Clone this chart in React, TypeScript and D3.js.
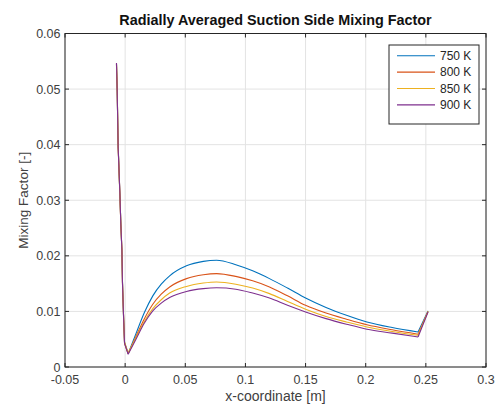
import React from "react";
import * as d3 from "d3";

const xCoord = [-0.0072, -0.0066, -0.0058, -0.0044, -0.0036, -0.0027, -0.0022, -0.0013, -0.0005, 0.0025, 0.009, 0.016, 0.023, 0.03, 0.037, 0.051, 0.065, 0.076, 0.092, 0.106, 0.12, 0.135, 0.15, 0.167, 0.184, 0.201, 0.222, 0.2435, 0.2518];

const mf750 = [0.0545, 0.0495, 0.0398, 0.0312, 0.0261, 0.0208, 0.0153, 0.0088, 0.0044, 0.0024, 0.006, 0.0098, 0.0128, 0.0149, 0.0164, 0.0182, 0.019, 0.0192, 0.0184, 0.0173, 0.0159, 0.0142, 0.0124, 0.0107, 0.0093, 0.0081, 0.0071, 0.0063, 0.0101];
const mf800 = [0.0546, 0.0497, 0.0394, 0.0315, 0.0257, 0.0212, 0.0149, 0.0091, 0.0042, 0.0024, 0.0055, 0.0087, 0.0113, 0.0131, 0.0144, 0.0159, 0.0166, 0.0168, 0.0163, 0.0155, 0.0144, 0.0128, 0.0111, 0.0097, 0.0086, 0.0076, 0.0067, 0.0059, 0.01];
const mf850 = [0.0544, 0.0499, 0.0397, 0.031, 0.026, 0.0209, 0.0152, 0.0089, 0.0045, 0.0025, 0.0053, 0.0082, 0.0105, 0.0121, 0.0133, 0.0145, 0.0151, 0.0153, 0.0149, 0.0142, 0.0132, 0.0118, 0.0104, 0.0091, 0.0081, 0.0072, 0.0064, 0.0057, 0.01];
const mf900 = [0.0547, 0.0496, 0.0395, 0.0314, 0.0258, 0.0211, 0.015, 0.009, 0.0043, 0.0023, 0.005, 0.0079, 0.0101, 0.0115, 0.0125, 0.0136, 0.0141, 0.01425, 0.014, 0.0133, 0.0124, 0.0111, 0.0099, 0.0087, 0.0077, 0.0068, 0.0061, 0.0054, 0.0099];

const seriesNames = ["750 K", "800 K", "850 K", "900 K"];
const seriesColors = ["#0072BD", "#D95319", "#EDB120", "#7E2F8E"];
const seriesValues = [mf750, mf800, mf850, mf900];

const xTicks = [-0.05, 0, 0.05, 0.1, 0.15, 0.2, 0.25, 0.3];
const yTicks = [0, 0.01, 0.02, 0.03, 0.04, 0.05, 0.06];

const W = 496, H = 409;
const L = 65, R = 486, T = 33.5, B = 367;
const axisColor = "#262626";
const textColor = "#404040";
const gridColor = "#e3e3e3";
const font = "'Liberation Sans', Arial, Helvetica, sans-serif";

export default function App() {
  const x = d3.scaleLinear().domain([-0.05, 0.3]).range([L, R]);
  const y = d3.scaleLinear().domain([0, 0.06]).range([B, T]);
  const linear = d3.line<[number, number]>().x(d => x(d[0])).y(d => y(d[1]));
  const smooth = d3.line<[number, number]>().x(d => x(d[0])).y(d => y(d[1])).curve(d3.curveMonotoneX);
  const fmt = (v: number) => (v === 0 ? "0" : String(v));
  const minIdx = 9;
  const n = xCoord.length;

  const pathFor = (vals: number[]) => {
    const pts = xCoord.map((xv, j) => [xv, vals[j]] as [number, number]);
    const a = linear(pts.slice(0, minIdx + 1)) || "";
    const b = smooth(pts.slice(minIdx, n - 1)) || "";
    const c = linear(pts.slice(n - 2)) || "";
    return a + b + c;
  };

  const lx = 389, ly = 45, lw = 90, lh = 79;

  return (
    <svg width={W} height={H} style={{ position: "absolute", left: 0, top: 0, background: "#fff" }} fontFamily={font}>
      <rect x={0} y={0} width={W} height={H} fill="#fff" />
      {xTicks.map(t => (
        <line key={"gx" + t} x1={x(t)} x2={x(t)} y1={T} y2={B} stroke={gridColor} strokeWidth={1} />
      ))}
      {yTicks.map(t => (
        <line key={"gy" + t} x1={L} x2={R} y1={y(t)} y2={y(t)} stroke={gridColor} strokeWidth={1} />
      ))}
      <g fill="none" strokeWidth={1.1} strokeLinejoin="round">
        {seriesValues.map((vals, i) => (
          <path key={i} d={pathFor(vals)} stroke={seriesColors[i]} />
        ))}
      </g>
      <rect x={L} y={T} width={R - L} height={B - T} fill="none" stroke={axisColor} strokeWidth={1} />
      {xTicks.map(t => (
        <g key={"tx" + t}>
          <line x1={x(t)} x2={x(t)} y1={B} y2={B - 4} stroke={axisColor} />
          <line x1={x(t)} x2={x(t)} y1={T} y2={T + 4} stroke={axisColor} />
          <text x={x(t)} y={384} textAnchor="middle" fontSize={12.5} fill={textColor}>{fmt(t)}</text>
        </g>
      ))}
      {yTicks.map(t => (
        <g key={"ty" + t}>
          <line x1={L} x2={L + 4} y1={y(t)} y2={y(t)} stroke={axisColor} />
          <line x1={R} x2={R - 4} y1={y(t)} y2={y(t)} stroke={axisColor} />
          <text x={60.5} y={y(t) + 4.5} textAnchor="end" fontSize={12.5} fill={textColor}>{fmt(t)}</text>
        </g>
      ))}
      <text x={(L + R) / 2} y={25} textAnchor="middle" fontSize={14.4} fontWeight="bold" fill="#111">Radially Averaged Suction Side Mixing Factor</text>
      <text x={(L + R) / 2} y={401} textAnchor="middle" fontSize={14} fill={textColor}>x-coordinate [m]</text>
      <text transform={`translate(28,${(T + B) / 2}) rotate(-90)`} textAnchor="middle" fontSize={13.5} fill={textColor}>Mixing Factor [-]</text>
      <rect x={lx} y={ly} width={lw} height={lh} fill="#fff" stroke={axisColor} strokeWidth={1} />
      {seriesNames.map((nm, i) => {
        const ry = 55.7 + i * 16.4;
        return (
          <g key={nm}>
            <line x1={397} x2={435} y1={ry} y2={ry} stroke={seriesColors[i]} strokeWidth={1.1} />
            <text x={440} y={ry + 4.2} fontSize={12} fill={axisColor}>{nm}</text>
          </g>
        );
      })}
    </svg>
  );
}
